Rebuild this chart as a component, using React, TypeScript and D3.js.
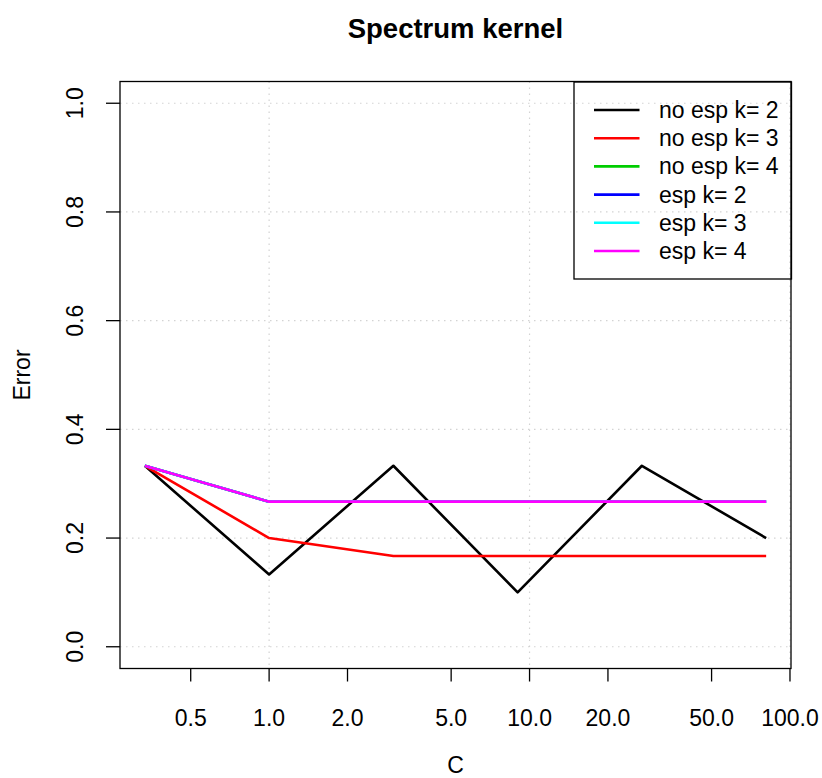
import React from "react";
import * as d3 from "d3";

const cValues = [1 / 3, 1, 3, 9, 27, 81];
const seriesNames = ["no esp k= 2", "no esp k= 3", "no esp k= 4", "esp k= 2", "esp k= 3", "esp k= 4"];
const seriesColors = ["#000000", "#FF0000", "#00CD00", "#0000FF", "#00FFFF", "#FF00FF"];
const noEspK2 = [0.333, 0.133, 0.333, 0.1, 0.333, 0.2];
const noEspK3 = [0.333, 0.2, 0.167, 0.167, 0.167, 0.167];
const noEspK4 = [0.333, 0.267, 0.267, 0.267, 0.267, 0.267];
const espK2 = [0.333, 0.267, 0.267, 0.267, 0.267, 0.267];
const espK3 = [0.333, 0.267, 0.267, 0.267, 0.267, 0.267];
const espK4 = [0.333, 0.267, 0.267, 0.267, 0.267, 0.267];
const xTicks = [0.5, 1, 2, 5, 10, 20, 50, 100];
const xTickLabels = ["0.5", "1.0", "2.0", "5.0", "10.0", "20.0", "50.0", "100.0"];
const xGrid = [1, 10, 100];
const yTicks = [0, 0.2, 0.4, 0.6, 0.8, 1.0];

const W = 822;
const H = 778;
const L = 120, R = 791, T = 81.5, B = 668.5;
const FONT = "'Liberation Sans', Arial, Helvetica, sans-serif";
const FS = 23;

export default function App() {
  const series = [noEspK2, noEspK3, noEspK4, espK2, espK3, espK4];
  const lx = d3.extent(cValues.map((v) => Math.log10(v))) as [number, number];
  const rx = lx[1] - lx[0];
  const x = d3
    .scaleLog()
    .domain([Math.pow(10, lx[0] - 0.04 * rx), Math.pow(10, lx[1] + 0.04 * rx)])
    .range([L, R]);
  const y = d3.scaleLinear().domain([-0.04, 1.04]).range([B, T]);
  const line = d3
    .line<number>()
    .x((_, i) => x(cValues[i]))
    .y((d) => y(d));

  const legX = 574, legY = 82, legW = 217.5, legH = 197;
  const legRow = 28.2;
  const legFirst = 110;

  return (
    <svg
      width={W}
      height={H}
      style={{ position: "absolute", left: 0, top: 0, background: "#fff" }}
      fontFamily={FONT}
    >
      <rect x={0} y={0} width={W} height={H} fill="#fff" />
      {xGrid.map((g) => (
        <line key={"gx" + g} x1={x(g)} x2={x(g)} y1={T} y2={B} stroke="#d3d3d3" strokeWidth={1.2} strokeDasharray="1.5 4.5" />
      ))}
      {yTicks.map((g) => (
        <line key={"gy" + g} x1={L} x2={R} y1={y(g)} y2={y(g)} stroke="#d3d3d3" strokeWidth={1.2} strokeDasharray="1.5 4.5" />
      ))}
      {series.map((s, i) => (
        <path key={"s" + i} d={line(s) || ""} fill="none" stroke={seriesColors[i]} strokeWidth={2.6} strokeLinejoin="round" />
      ))}
      <rect x={L} y={T} width={R - L} height={B - T} fill="none" stroke="#000" strokeWidth={1.3} />
      {xTicks.map((t, i) => (
        <g key={"xt" + t}>
          <line x1={x(t)} x2={x(t)} y1={B} y2={B + 13} stroke="#000" strokeWidth={1.3} />
          <text x={x(t)} y={726} fontSize={FS} textAnchor="middle">{xTickLabels[i]}</text>
        </g>
      ))}
      {yTicks.map((t) => (
        <g key={"yt" + t}>
          <line x1={L - 14} x2={L} y1={y(t)} y2={y(t)} stroke="#000" strokeWidth={1.3} />
          <text transform={`translate(83,${y(t)}) rotate(-90)`} fontSize={FS} textAnchor="middle">
            {t.toFixed(1)}
          </text>
        </g>
      ))}
      <text x={(L + R) / 2} y={38} fontSize={27.5} fontWeight="bold" textAnchor="middle">Spectrum kernel</text>
      <text x={(L + R) / 2} y={773} fontSize={FS} textAnchor="middle">C</text>
      <text transform={`translate(30,${(T + B) / 2}) rotate(-90)`} fontSize={FS} textAnchor="middle">Error</text>
      <rect x={legX} y={legY} width={legW} height={legH} fill="none" stroke="#000" strokeWidth={1.3} />
      {seriesNames.map((n, i) => (
        <g key={"lg" + i}>
          <line x1={594} x2={639.5} y1={legFirst + i * legRow} y2={legFirst + i * legRow} stroke={seriesColors[i]} strokeWidth={2.6} />
          <text x={659} y={legFirst + i * legRow + 8} fontSize={FS}>{n}</text>
        </g>
      ))}
    </svg>
  );
}
